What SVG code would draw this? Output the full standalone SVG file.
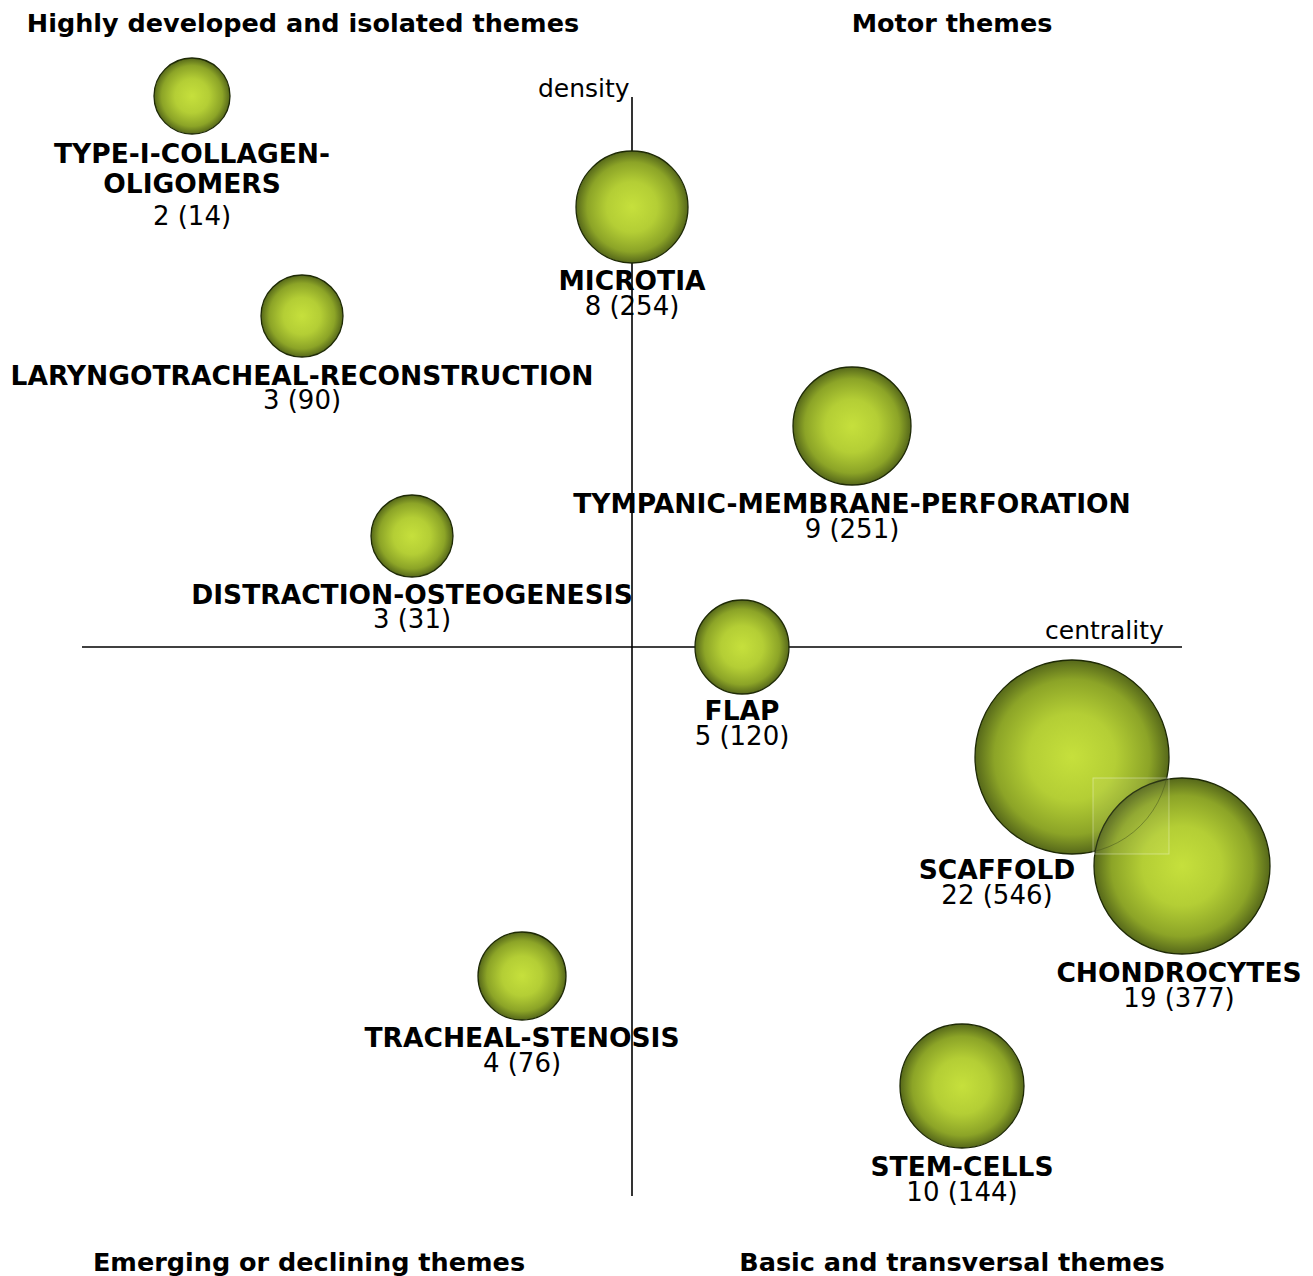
<svg xmlns="http://www.w3.org/2000/svg" width="1313" height="1276" viewBox="0 0 1313 1276">
<style>
.axis{stroke:#000;stroke-width:1.6;fill:none}
.bub{fill:url(#g);stroke:#1e2a05;stroke-width:1.3}
.lab{font-family:"DejaVu Sans",Verdana,sans-serif;font-weight:bold;font-size:26.5px;fill:#000;text-anchor:middle}
.cnt{font-family:"DejaVu Sans",Verdana,sans-serif;font-size:26px;fill:#000;text-anchor:middle}
.ax{font-family:"DejaVu Sans",Verdana,sans-serif;font-size:25px;fill:#000}
.ttl{font-family:"DejaVu Sans",Verdana,sans-serif;font-weight:bold;font-size:25.5px;fill:#000;text-anchor:middle}
</style>
<defs>
<radialGradient id="g" cx="50%" cy="50%" r="50%">
<stop offset="0" stop-color="#c6e03c"/>
<stop offset="0.45" stop-color="#b4ce35"/>
<stop offset="0.8" stop-color="#8ca427"/>
<stop offset="1" stop-color="#56681a"/>
</radialGradient>
<clipPath id="rc"><rect x="1093" y="778" width="76" height="76"/></clipPath>
</defs>
<rect width="1313" height="1276" fill="#fff"/>
<g id="titles">
<text class="ttl" x="303" y="32">Highly developed and isolated themes</text>
<text class="ttl" x="952" y="32">Motor themes</text>
<text class="ttl" x="309" y="1271">Emerging or declining themes</text>
<text class="ttl" x="952" y="1271">Basic and transversal themes</text>
</g>
<g id="connectors">
<line class="axis" x1="632" y1="97" x2="632" y2="1196"/>
<line class="axis" x1="82" y1="647" x2="1182" y2="647"/>
<text class="ax" x="538" y="97">density</text>
<text class="ax" x="1045" y="639">centrality</text>
</g>
<g id="type-i-collagen-oligomers">
<circle class="bub" cx="192" cy="96" r="38"/>
<text class="lab" x="192" y="163">TYPE-I-COLLAGEN-</text>
<text class="lab" x="192" y="193">OLIGOMERS</text>
<text class="cnt" x="192" y="225">2 (14)</text>
</g>
<g id="microtia">
<circle class="bub" cx="632" cy="207" r="56"/>
<text class="lab" x="632" y="290">MICROTIA</text>
<text class="cnt" x="632" y="315">8 (254)</text>
</g>
<g id="laryngotracheal-reconstruction">
<circle class="bub" cx="302" cy="316" r="41"/>
<text class="lab" x="302" y="385">LARYNGOTRACHEAL-RECONSTRUCTION</text>
<text class="cnt" x="302" y="409">3 (90)</text>
</g>
<g id="tympanic-membrane-perforation">
<circle class="bub" cx="852" cy="426" r="59"/>
<text class="lab" x="852" y="513">TYMPANIC-MEMBRANE-PERFORATION</text>
<text class="cnt" x="852" y="538">9 (251)</text>
</g>
<g id="distraction-osteogenesis">
<circle class="bub" cx="412" cy="536" r="41"/>
<text class="lab" x="412" y="604">DISTRACTION-OSTEOGENESIS</text>
<text class="cnt" x="412" y="628">3 (31)</text>
</g>
<g id="flap">
<circle class="bub" cx="742" cy="647" r="47"/>
<text class="lab" x="742" y="720">FLAP</text>
<text class="cnt" x="742" y="745">5 (120)</text>
</g>
<g id="scaffold">
<circle class="bub" cx="1072" cy="757" r="97"/>
<text class="lab" x="997" y="879">SCAFFOLD</text>
<text class="cnt" x="997" y="904">22 (546)</text>
</g>
<g id="chondrocytes">
<circle class="bub" cx="1182" cy="866" r="88"/>
<circle cx="1072" cy="757" r="97" fill="none" stroke="#3a4a10" stroke-opacity="0.5" stroke-width="1" clip-path="url(#rc)"/>
<rect x="1093" y="778" width="76" height="76" fill="#fff" fill-opacity="0.06" stroke="#fff" stroke-opacity="0.35" stroke-width="1"/>
<text class="lab" x="1179" y="982">CHONDROCYTES</text>
<text class="cnt" x="1179" y="1007">19 (377)</text>
</g>
<g id="tracheal-stenosis">
<circle class="bub" cx="522" cy="976" r="44"/>
<text class="lab" x="522" y="1047">TRACHEAL-STENOSIS</text>
<text class="cnt" x="522" y="1072">4 (76)</text>
</g>
<g id="stem-cells">
<circle class="bub" cx="962" cy="1086" r="62"/>
<text class="lab" x="962" y="1176">STEM-CELLS</text>
<text class="cnt" x="962" y="1201">10 (144)</text>
</g>
</svg>
